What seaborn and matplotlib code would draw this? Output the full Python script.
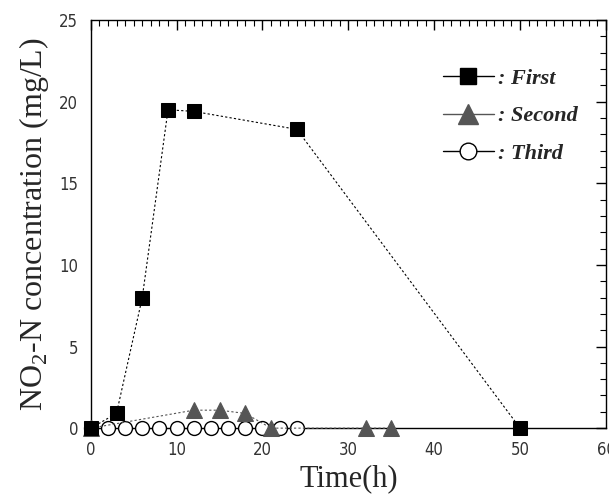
import matplotlib
matplotlib.use("Agg")
import matplotlib.pyplot as plt
import seaborn as sns
import pandas as pd
from matplotlib.lines import Line2D
from matplotlib.ticker import MultipleLocator

# data
first_t = [0, 3, 6, 9, 12, 24, 50]
first_c = [0, 0.9, 8.0, 19.5, 19.4, 18.3, 0]
second_t = [0, 12, 15, 18, 21, 32, 35]
second_c = [0, 1.1, 1.1, 0.9, 0, 0, 0]
third_t = [0, 2, 4, 6, 8, 10, 12, 14, 16, 18, 20, 22, 24]
third_c = [0] * 13

sns.set_theme(style="white")
plt.rcParams["font.family"] = ["Liberation Serif", "DejaVu Serif"]
plt.rcParams["mathtext.fontset"] = "custom"
plt.rcParams["mathtext.rm"] = "Liberation Serif"

fig = plt.figure(figsize=(6.09, 4.99), dpi=100)
ax = fig.add_axes([0.149, 0.142, 0.846, 0.818])

df1 = pd.DataFrame({"t": first_t, "c": first_c})
df2 = pd.DataFrame({"t": second_t, "c": second_c})
df3 = pd.DataFrame({"t": third_t, "c": third_c})

sns.lineplot(data=df3, x="t", y="c", ax=ax, color="black", lw=0.8, ls=(0, (2, 2)),
             marker="o", ms=10, mfc="white", mec="black", mew=1.0, zorder=3, clip_on=False)
sns.lineplot(data=df2, x="t", y="c", ax=ax, color="#555555", lw=0.8, ls=(0, (2, 2)),
             marker="^", ms=12, mfc="#555555", mec="#555555", zorder=4, clip_on=False)
sns.lineplot(data=df1, x="t", y="c", ax=ax, color="black", lw=0.8, ls=(0, (2, 2)),
             marker="s", ms=10, mfc="black", mec="black", zorder=5, clip_on=False)

ax.set_xlim(0, 60)
ax.set_ylim(0, 25)
ax.xaxis.set_major_locator(MultipleLocator(10))
ax.xaxis.set_minor_locator(MultipleLocator(1))
ax.yaxis.set_major_locator(MultipleLocator(5))
ax.yaxis.set_minor_locator(MultipleLocator(1))
ax.tick_params(which="both", direction="in", top=True, right=True, color="black")
ax.tick_params(which="major", length=7, width=1)
ax.tick_params(which="minor", length=4, width=0.8)
ax.tick_params(axis="x", pad=9)
ax.tick_params(axis="y", pad=9)
for lab in ax.get_xticklabels() + ax.get_yticklabels():
    lab.set_family("DejaVu Sans")
    lab.set_fontstretch("condensed")
    lab.set_fontsize(12)
    lab.set_color("#333333")
for s in ax.spines.values():
    s.set_color("black")
    s.set_linewidth(1)

ax.set_xlabel("Time(h)", fontsize=22, labelpad=4)
ax.set_ylabel("NO$_2$-N concentration (mg/L)", fontsize=23, labelpad=6)

handles = [
    Line2D([], [], color="black", lw=1, marker="s", ms=12, mfc="black", mec="black"),
    Line2D([], [], color="#555555", lw=1, marker="^", ms=14, mfc="#555555", mec="#555555"),
    Line2D([], [], color="black", lw=1, marker="o", ms=12, mfc="white", mec="black"),
]
leg = ax.legend(handles, [": First", ": Second", ": Third"], loc="upper right",
                bbox_to_anchor=(0.985, 0.93), frameon=False, handlelength=2.3,
                handletextpad=0.2, labelspacing=0.75,
                prop={"family": "Liberation Serif", "style": "italic",
                      "weight": "bold", "size": 16})

fig.savefig("out.png", dpi=100)
